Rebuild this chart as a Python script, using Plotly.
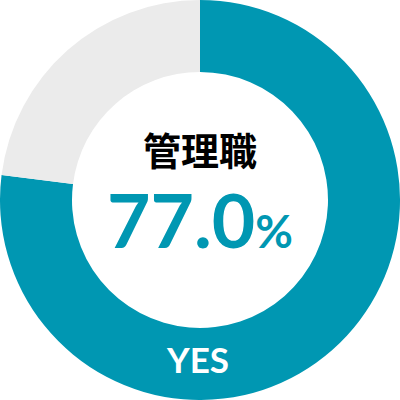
import plotly.graph_objects as go

labels = ["YES", "NO"]
values = [77.0, 23.0]
colors = ["#0097b2", "#ebebeb"]
title_text = "管理職"
yes_value = 77.0

fig = go.Figure(go.Pie(
    labels=labels,
    values=values,
    hole=0.64,
    sort=False,
    direction="clockwise",
    rotation=0,
    marker=dict(colors=colors, line=dict(width=0)),
    textinfo="none",
    hoverinfo="skip",
    showlegend=False,
    domain=dict(x=[0, 1], y=[0, 1]),
))

fig.add_annotation(x=0.5, y=1 - 148 / 400, xref="paper", yref="paper",
                   text=f"<b>{title_text}</b>", showarrow=False,
                   font=dict(family="Noto Sans CJK JP", size=38, color="#000000"))
fig.add_annotation(x=0.5, y=1 - 219 / 400, xref="paper", yref="paper",
                   text=f"<b>{yes_value:.1f}<span style='font-size:46px'>%</span></b>", showarrow=False,
                   font=dict(family="Lato", size=75, color="#0097b2"))
fig.add_annotation(x=0.4925, y=1 - 382 / 400, xref="paper", yref="paper",
                   text=f"<b>{labels[0]}</b>", showarrow=False,
                   font=dict(family="Lato", size=35, color="#ffffff"))

fig.update_layout(width=400, height=400, margin=dict(l=0, r=0, t=0, b=0),
                  paper_bgcolor="#ffffff", plot_bgcolor="#ffffff")
fig.write_html("out.html", config={"displayModeBar": False},
               post_script="document.body.style.margin='0';")
